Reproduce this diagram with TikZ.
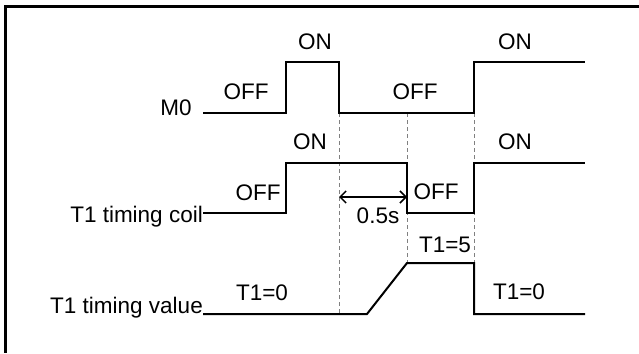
\documentclass[tikz,border=0pt]{standalone}
\usepackage{fontspec}
\setmainfont{Liberation Sans}
\usetikzlibrary{arrows.meta}

\tikzset{
  wave/.style={line width=2pt, line join=miter},
  guide/.style={gray, dashed, line width=1pt, dash pattern=on 4pt off 3pt},
  lbl/.style={inner sep=0pt, font=\fontsize{22.5}{27}\selectfont}
}

\begin{document}
\begin{tikzpicture}[x=1pt, y=-1pt]
    \useasboundingbox (0,0) rectangle (639,353);
    % Frame
    \draw[line width=3pt] (639,7) -- (5,7) -- (5,353);

    % Guides
    \draw[guide] (339,113) -- (339,314);
    \draw[guide] (407,113) -- (407,263);
    \draw[guide] (474,113) -- (474,263);

    % M0
    \node[lbl] (m0) at (176,108) {M0};
    \draw[wave] (203,113) -- (286,113) -- (286,62) -- (339,62) -- (339,113)
        -- (474,113) -- (474,62) -- (585,62);
    \node[lbl] (m0off1) at (246,92) {OFF};
    \node[lbl] (m0on1) at (315,42) {ON};
    \node[lbl] (m0off2) at (415,92) {OFF};
    \node[lbl] (m0on2) at (515,42) {ON};

    % T1 timing coil
    \node[lbl, anchor=base east] (coil) at (203,222) {T1 timing coil};
    \draw[wave] (coil.base east |- 0,213) -- (286,213) -- (286,163) -- (407,163) -- (407,213)
        -- (474,213) -- (474,163) -- (585,163);
    \node[lbl] (coiloff1) at (258,193) {OFF};
    \node[lbl] (coilon1) at (310,142) {ON};
    \node[lbl] (coiloff2) at (436,192) {OFF};
    \node[lbl] (coilon2) at (515,142) {ON};

    % 0.5 s delay
    \coordinate (d1) at (339,197);
    \coordinate (d2) at (407,197);
    \draw[line width=1.5pt, {Straight Barb[length=6pt,width=12pt]}-{Straight Barb[length=6pt,width=12pt]}] (d1) -- (d2);
    \node[lbl] (delay) at (378,216) {0.5s};

    % T1 timing value
    \node[lbl, anchor=base east] (value) at (203,313) {T1 timing value};
    \draw[wave] (203,314) -- (367,314) -- (407,263) -- (474,263) -- (474,314) -- (585,314);
    \node[lbl] (val0a) at (262,293) {T1=0};
    \node[lbl] (val5) at (445,245) {T1=5};
    \node[lbl] (val0b) at (519,292) {T1=0};
\end{tikzpicture}
\end{document}
